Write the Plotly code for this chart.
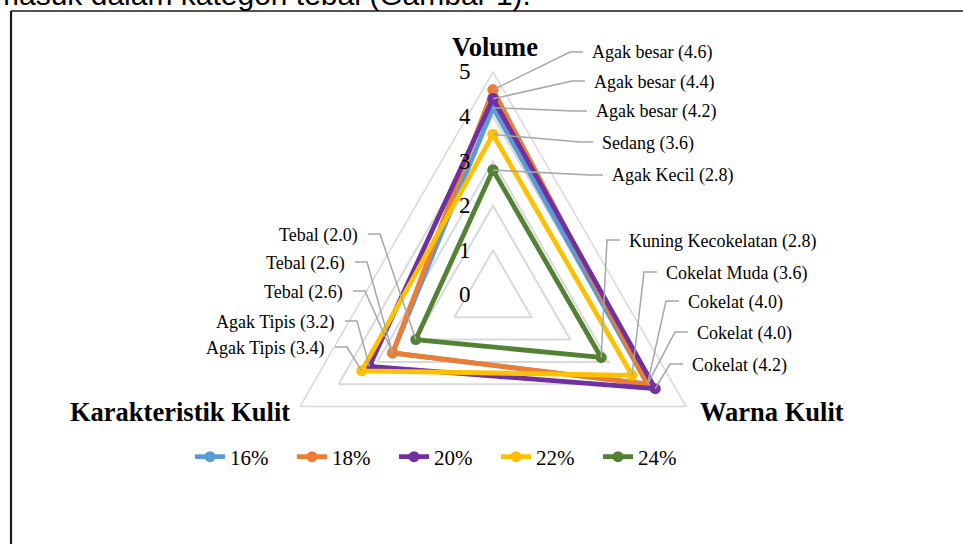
import math
import plotly.graph_objects as go

# ---------------- data ----------------
categories = ["Volume", "Warna Kulit", "Karakteristik Kulit"]
series_names = ["16%", "18%", "20%", "22%", "24%"]
values_16 = [4.2, 4.0, 2.6]
values_18 = [4.6, 4.0, 2.6]
values_20 = [4.4, 4.2, 3.2]
values_22 = [3.6, 3.6, 3.4]
values_24 = [2.8, 2.8, 2.0]
labels_16 = ["Agak besar", "Cokelat", "Tebal"]
labels_18 = ["Agak besar", "Cokelat", "Tebal"]
labels_20 = ["Agak besar", "Cokelat", "Agak Tipis"]
labels_22 = ["Sedang", "Cokelat Muda", "Agak Tipis"]
labels_24 = ["Agak Kecil", "Kuning Kecokelatan", "Tebal"]
radial_ticks = [0, 1, 2, 3, 4, 5]
body_text = "masuk dalam kategori tebal (Gambar 1)."

all_values = [values_16, values_18, values_20, values_22, values_24]
all_labels = [labels_16, labels_18, labels_20, labels_22, labels_24]

# ---------------- styles / layout ----------------
colors = ["#5B9BD5", "#ED7D31", "#7030A0", "#FFC000", "#548235"]
W, H = 963, 544
CX, CY, R = 493, 295, 223          # polar centre and radius in pixels
RMAX = 5
SERIF = "Liberation Serif"

# label text positions in px: (x, y); per category, per series index
# Volume & Warna Kulit labels are left-anchored, Karakteristik right-anchored
label_pos = {
    0: {1: (590, 53), 2: (592, 82), 0: (594, 112), 3: (600, 143), 4: (610, 176)},
    1: {4: (627, 241), 3: (664, 273), 0: (686, 302), 1: (695, 333), 2: (690, 365)},
    2: {4: (360, 235), 1: (347, 263), 0: (345, 292), 2: (337, 322), 3: (327, 348)},
}
# category title positions in px: (x, y, xanchor)
title_pos = [(495, 47, "center"), (698, 412, "left"), (292, 412, "right")]
axis_angles = [90, -30, 210]

def px_point(cat, v):
    a = math.radians(axis_angles[cat])
    d = v / RMAX * R
    return CX + d * math.cos(a), CY - d * math.sin(a)

def to_paper(x, y):
    return x / W, 1 - y / H

fig = go.Figure()
for name, vals, col in zip(series_names, all_values, colors):
    fig.add_trace(go.Scatterpolar(
        r=vals + [vals[0]],
        theta=categories + [categories[0]],
        mode="lines+markers",
        name=name,
        line=dict(color=col, width=4.8),
        marker=dict(color=col, size=11),
        hoverinfo="skip",
    ))

shapes = []
annotations = []
for cat in range(3):
    for si, (tx, ty) in label_pos[cat].items():
        v = all_values[si][cat]
        txt = f"{all_labels[si][cat]} ({v:.1f})"
        px, py = px_point(cat, v)
        ey = ty - 1
        if cat == 2:
            e1, e2, anchor = tx + 20, tx + 8, "right"
        else:
            e1, e2, anchor = tx - 20, tx - 7, "left"
        p0 = to_paper(px, py)
        p1 = to_paper(e1, ey)
        p2 = to_paper(e2, ey)
        shapes.append(dict(
            type="path", xref="paper", yref="paper",
            path=f"M {p0[0]},{p0[1]} L {p1[0]},{p1[1]} L {p2[0]},{p2[1]}",
            line=dict(color="#A6A6A6", width=1.5),
            layer="above",
        ))
        xp, yp = to_paper(tx, ty)
        annotations.append(dict(
            text=txt, x=xp, y=yp, xref="paper", yref="paper",
            xanchor=anchor, yanchor="middle", showarrow=False,
            font=dict(family=SERIF, size=18, color="#000000"),
        ))

# category titles
for cat, (tx, ty, anc) in zip(categories, title_pos):
    xp, yp = to_paper(tx, ty)
    annotations.append(dict(
        text=cat, x=xp, y=yp, xref="paper", yref="paper",
        xanchor=anc, yanchor="middle", showarrow=False,
        font=dict(family=SERIF, size=26.5, color="#000000", weight="bold"),
    ))

# body text above the figure box (cut off at the top, as in the source)
bx, by = to_paper(-8, -5)
annotations.append(dict(
    text=body_text, x=bx, y=by, xref="paper", yref="paper",
    xanchor="left", yanchor="middle", showarrow=False,
    font=dict(family="Liberation Sans", size=30, color="#000000"),
))

# figure box border (left and top edges)
lx0, ly0 = to_paper(11, 11)
shapes.append(dict(type="line", xref="paper", yref="paper",
                   x0=lx0, y0=ly0, x1=lx0, y1=0,
                   line=dict(color="#1a1a1a", width=2.2)))
shapes.append(dict(type="line", xref="paper", yref="paper",
                   x0=lx0, y0=ly0, x1=1, y1=ly0,
                   line=dict(color="#1a1a1a", width=1.6)))

dx0, dy_top = to_paper(CX - R, CY - R)
dx1, dy_bot = to_paper(CX + R, CY + R)

fig.update_layout(
    width=W, height=H,
    margin=dict(l=0, r=0, t=0, b=0),
    paper_bgcolor="white",
    plot_bgcolor="white",
    showlegend=True,
    polar=dict(
        domain=dict(x=[dx0, dx1], y=[dy_bot, dy_top]),
        bgcolor="white",
        gridshape="linear",
        angularaxis=dict(
            type="category",
            categoryarray=categories,
            rotation=90,
            direction="clockwise",
            showgrid=False,
            showline=True,
            linecolor="#D9D9D9",
            linewidth=1.5,
            ticks="",
            showticklabels=False,
        ),
        radialaxis=dict(
            range=[0, RMAX],
            tickvals=radial_ticks,
            angle=90,
            side="counterclockwise",
            showline=False,
            ticks="outside",
            ticklen=14,
            tickcolor="rgba(0,0,0,0)",
            showgrid=True,
            gridcolor="#D9D9D9",
            gridwidth=1.5,
            tickangle=90,
            tickfont=dict(family=SERIF, size=23, color="#000000"),
        ),
    ),
    legend=dict(
        orientation="h",
        x=190 / W, xanchor="left",
        y=1 - 457 / H, yanchor="middle",
        font=dict(family=SERIF, size=21, color="#000000"),
        entrywidth=57,
        bgcolor="rgba(0,0,0,0)",
    ),
    shapes=shapes,
    annotations=annotations,
)

fig.write_html("out.html")
